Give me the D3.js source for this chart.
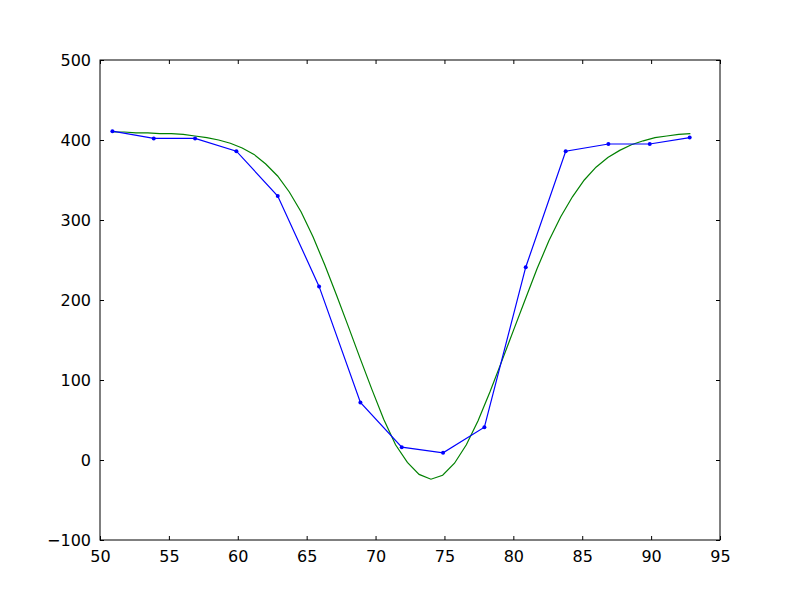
<!DOCTYPE html>
<html>
<head>
<meta charset="utf-8">
<script src="https://cdn.jsdelivr.net/npm/d3@7"></script>
<style>
  body { margin: 0; background: #fff; }
  svg { display: block; }
  .tick text { font-family: "DejaVu Sans", sans-serif; font-size: 16px; fill: #000; }
</style>
</head>
<body>
<svg id="chart"></svg>
<script>
// measured points (blue)
const measuredX = [50.9, 53.9, 56.9, 59.9, 62.9, 65.9, 68.9, 71.9, 74.9, 77.9, 80.9, 83.8, 86.9, 89.9, 92.8]
const measuredY = [411, 402, 402, 386, 330, 217, 72, 16, 9, 41, 241, 386, 395, 395, 403]

// fitted curve (green)
const fitX = [
  50.9, 51.76, 52.61, 53.47, 54.33, 55.18, 56.04, 56.89, 57.75, 58.61,
  59.46, 60.32, 61.18, 62.03, 62.89, 63.74, 64.6, 65.46, 66.31, 67.17,
  68.02, 68.88, 69.74, 70.59, 71.45, 72.31, 73.16, 74.02, 74.87, 75.73,
  76.59, 77.44, 78.3, 79.15, 80.01, 80.87, 81.72, 82.58, 83.44, 84.29,
  85.15, 86.0, 86.86, 87.72, 88.57, 89.43, 90.28, 91.14, 92.0, 92.85,
]
const fitY = [
  410, 410, 409, 409, 408, 408, 407, 405, 403, 400,
  396, 390, 382, 370, 355, 335, 310, 279, 244, 206,
  167, 127, 88, 51, 19, -3, -18, -24, -19, -4,
  19, 49, 85, 123, 162, 201, 239, 274, 304, 329,
  350, 366, 378, 387, 394, 399, 403, 405, 407, 408,
]

const xTicks = [50, 55, 60, 65, 70, 75, 80, 85, 90, 95]
const yTicks = [-100, 0, 100, 200, 300, 400, 500]

const width = 800
const height = 600
const margin = { top: 60, right: 80, bottom: 60, left: 100 }

const svg = d3.select('#chart').attr('width', width).attr('height', height)

const x = d3.scaleLinear().domain([50, 95]).range([margin.left, width - margin.right])
const y = d3.scaleLinear().domain([-100, 500]).range([height - margin.bottom, margin.top])

const minus = (v) => String(v).replace('-', '\u2212')

// axes, ticks pointing inward on all four sides
const axisB = svg.append('g')
  .attr('transform', `translate(0,${height - margin.bottom})`)
  .call(d3.axisBottom(x).tickValues(xTicks).tickSizeInner(-4).tickSizeOuter(0).tickPadding(9).tickFormat(minus))
const axisT = svg.append('g')
  .attr('transform', `translate(0,${margin.top})`)
  .call(d3.axisTop(x).tickValues(xTicks).tickSizeInner(-4).tickSizeOuter(0).tickFormat(''))
const axisL = svg.append('g')
  .attr('transform', `translate(${margin.left},0)`)
  .call(d3.axisLeft(y).tickValues(yTicks).tickSizeInner(-4).tickSizeOuter(0).tickPadding(9).tickFormat(minus))
const axisR = svg.append('g')
  .attr('transform', `translate(${width - margin.right},0)`)
  .call(d3.axisRight(y).tickValues(yTicks).tickSizeInner(-4).tickSizeOuter(0).tickFormat(''))

;[axisB, axisT, axisL, axisR].forEach((g) => {
  g.select('.domain').remove()
  g.selectAll('.tick line').attr('stroke', '#000').attr('stroke-width', 1)
})
axisB.selectAll('.tick text').attr('dy', '0.8em')

const plot = svg.append('g')

const line = d3.line().x((d) => x(d[0])).y((d) => y(d[1]))

plot.append('path')
  .datum(fitX.map((v, i) => [v, fitY[i]]))
  .attr('fill', 'none')
  .attr('stroke', '#008000')
  .attr('stroke-width', 1.2)
  .attr('d', line)

const measured = measuredX.map((v, i) => [v, measuredY[i]])

plot.append('path')
  .datum(measured)
  .attr('fill', 'none')
  .attr('stroke', '#0000ff')
  .attr('stroke-width', 1.2)
  .attr('d', line)

plot.selectAll('circle')
  .data(measured)
  .join('circle')
  .attr('cx', (d) => x(d[0]))
  .attr('cy', (d) => y(d[1]))
  .attr('r', 2)
  .attr('fill', '#0000ff')

// frame
svg.append('rect')
  .attr('x', margin.left)
  .attr('y', margin.top)
  .attr('width', width - margin.left - margin.right)
  .attr('height', height - margin.top - margin.bottom)
  .attr('fill', 'none')
  .attr('stroke', '#000')
  .attr('stroke-width', 1)
</script>
</body>
</html>
